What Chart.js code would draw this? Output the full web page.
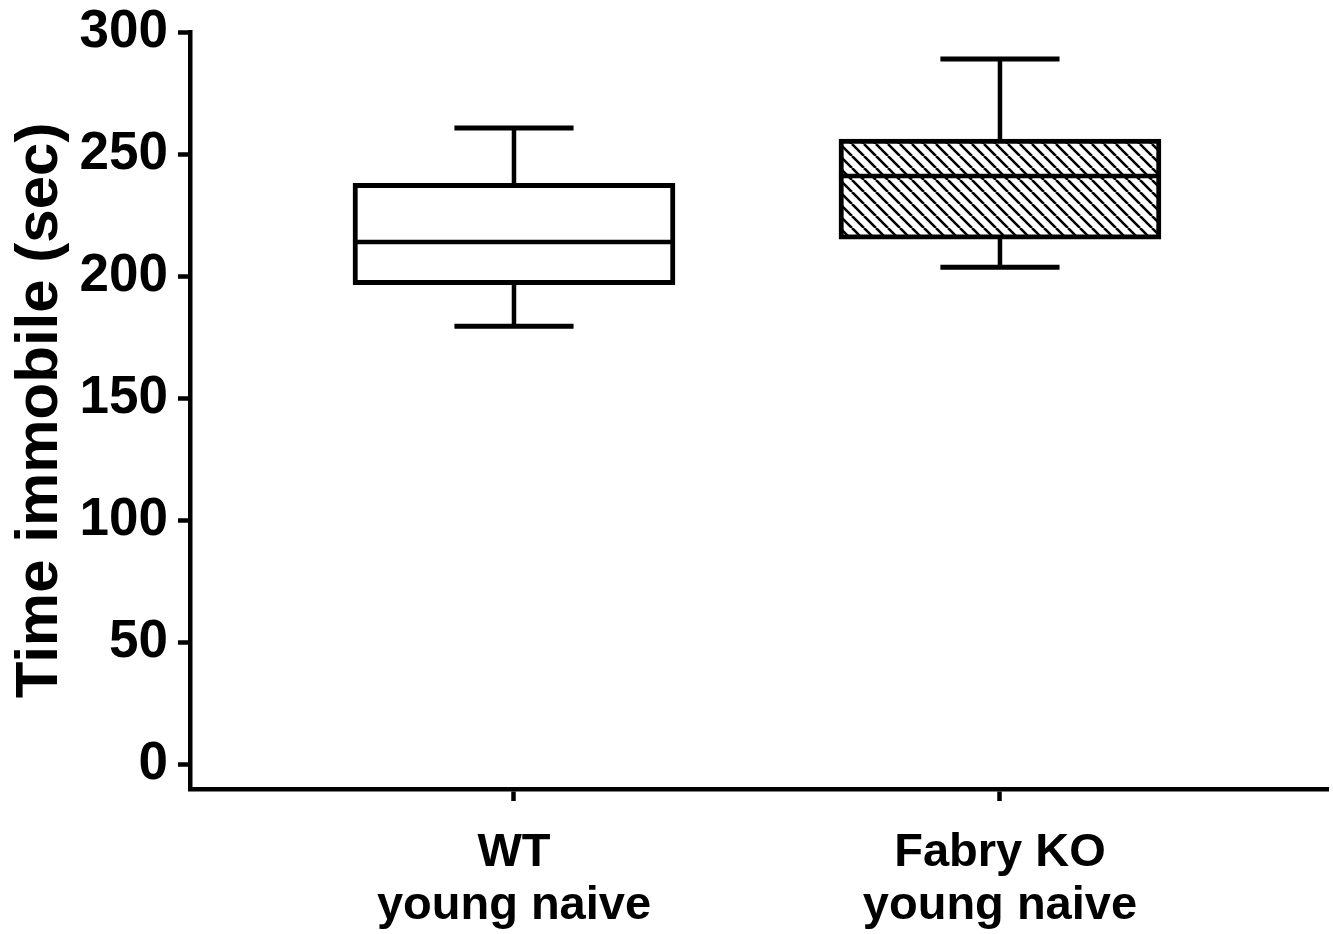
<!DOCTYPE html>
<html>
<head>
<meta charset="utf-8">
<script src="https://cdn.jsdelivr.net/npm/chart.js@4"></script>
<style>
  html, body { margin: 0; padding: 0; background: #fff; }
  #wrap { width: 1333px; height: 934px; position: relative; }
</style>
</head>
<body>
<div id="wrap"><canvas id="chart"></canvas></div>
<script>
// box plot data
const groups = [['WT', 'young naive'], ['Fabry KO', 'young naive']];
const xPositions = [1, 2];
const whiskerMin = [179.5, 203.7];
const q1 = [196.5, 215.2];
const median = [214.0, 241.0];
const q3 = [238.0, 256.2];
const whiskerMax = [260.7, 288.9];
const yTicks = [0, 50, 100, 150, 200, 250, 300];

const FONT = "'Liberation Sans', Arial, sans-serif";

// diagonal hatch for the KO box
function makeHatch() {
  const s = 12;
  const c = document.createElement('canvas');
  c.width = s; c.height = s;
  const g = c.getContext('2d');
  g.fillStyle = '#fff';
  g.fillRect(0, 0, s, s);
  g.strokeStyle = '#000';
  g.lineWidth = 2.6;
  g.beginPath();
  [-s, 0, s].forEach(k => { g.moveTo(k, 0); g.lineTo(k + s, s); });
  g.stroke();
  return g.createPattern(c, 'repeat');
}

// whiskers + median line, placed with the chart's own scales
const boxExtras = {
  id: 'boxExtras',
  afterDatasetsDraw(chart) {
    const ctx = chart.ctx;
    const xs = chart.scales.x, ys = chart.scales.y;
    const bars = chart.getDatasetMeta(0).data;
    ctx.save();
    ctx.strokeStyle = '#000';
    ctx.lineCap = 'butt';
    xPositions.forEach((xv, i) => {
      const x = xs.getPixelForValue(xv);
      const half = bars[i].width / 2;
      const cap = half * 0.37;
      // median
      ctx.lineWidth = 4.5;
      ctx.beginPath();
      ctx.moveTo(x - half, ys.getPixelForValue(median[i]));
      ctx.lineTo(x + half, ys.getPixelForValue(median[i]));
      ctx.stroke();
      // whiskers
      ctx.beginPath();
      ctx.moveTo(x, ys.getPixelForValue(q3[i]));
      ctx.lineTo(x, ys.getPixelForValue(whiskerMax[i]));
      ctx.moveTo(x, ys.getPixelForValue(q1[i]));
      ctx.lineTo(x, ys.getPixelForValue(whiskerMin[i]));
      ctx.stroke();
      // caps
      ctx.lineWidth = 5;
      ctx.beginPath();
      ctx.moveTo(x - cap, ys.getPixelForValue(whiskerMax[i]));
      ctx.lineTo(x + cap, ys.getPixelForValue(whiskerMax[i]));
      ctx.moveTo(x - cap, ys.getPixelForValue(whiskerMin[i]));
      ctx.lineTo(x + cap, ys.getPixelForValue(whiskerMin[i]));
      ctx.stroke();
    });
    ctx.restore();
  }
};

new Chart(document.getElementById('chart'), {
  type: 'bar',
  data: {
    datasets: [{
      data: xPositions.map((x, i) => ({ x: x, y: [q1[i], q3[i]] })),
      backgroundColor: ['#fff', makeHatch()],
      borderColor: '#000',
      borderWidth: 5,
      borderSkipped: false,
      barThickness: 322
    }]
  },
  options: {
    responsive: true,
    maintainAspectRatio: false,
    animation: false,
    layout: { padding: { left: 0, top: 32, right: 5, bottom: 0 } },
    plugins: { legend: { display: false }, tooltip: { enabled: false } },
    scales: {
      x: {
        type: 'linear',
        offset: false,
        min: 1 / 3,
        max: 2.675,
        afterBuildTicks: (scale) => { scale.ticks = xPositions.map(v => ({ value: v })); },
        afterFit: (scale) => { scale.height = 145; scale.paddingLeft = 0; scale.paddingRight = 0; },
        grid: { offset: false, drawOnChartArea: false, drawTicks: true, tickLength: 12, tickWidth: 4.5, tickColor: '#000' },
        border: { display: true, color: '#000', width: 4.5 },
        ticks: {
          color: '#000',
          padding: 26,
          maxRotation: 0,
          font: { family: FONT, size: 47, weight: 'bold', lineHeight: 1.12 },
          callback: (v) => {
            const i = xPositions.indexOf(v);
            return i >= 0 ? groups[i] : '';
          }
        }
      },
      y: {
        min: -10,
        max: 300,
        afterBuildTicks: (scale) => { scale.ticks = yTicks.map(v => ({ value: v })); },
        afterFit: (scale) => { scale.width = 190; scale.paddingTop = 0; scale.paddingBottom = 0; },
        grid: { drawOnChartArea: false, drawTicks: true, tickLength: 12, tickWidth: 4.5, tickColor: '#000' },
        border: { display: true, color: '#000', width: 4.5 },
        ticks: {
          color: '#000',
          padding: 10,
          font: { family: FONT, size: 53, weight: 'bold' }
        },
        title: {
          display: true,
          text: 'Time immobile (sec)',
          color: '#000',
          padding: { top: 4, bottom: 0 },
          font: { family: FONT, size: 60, weight: 'bold' }
        }
      }
    }
  },
  plugins: [boxExtras]
});
</script>
</body>
</html>
